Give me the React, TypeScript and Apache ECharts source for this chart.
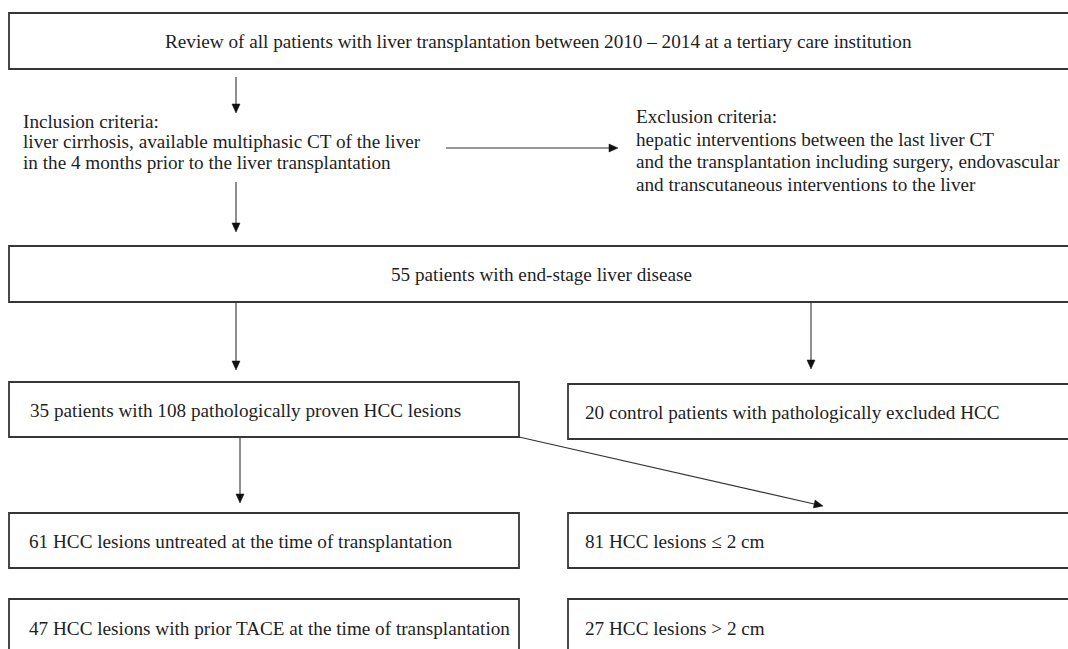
import React, { useEffect, useRef } from "react";
import * as echarts from "echarts";

const topText = ["Review of all patients with liver transplantation between 2010 – 2014 at a tertiary care institution"];
const inclusionLines = [
  "Inclusion criteria:",
  "liver cirrhosis, available multiphasic CT of the liver",
  "in the 4 months prior to the liver transplantation",
];
const exclusionLines = [
  "Exclusion criteria:",
  "hepatic interventions between the last liver CT",
  "and the transplantation including surgery, endovascular",
  "and transcutaneous interventions to the liver",
];
const cohortText = ["55 patients with end-stage liver disease"];
const groupTexts = [
  "35 patients with 108 pathologically proven HCC lesions",
  "20 control patients with pathologically excluded HCC",
];
const treatmentTexts = [
  "61 HCC lesions untreated at the time of transplantation",
  "47 HCC lesions with prior TACE at the time of transplantation",
];
const sizeTexts = ["81 HCC lesions ≤ 2 cm", "27 HCC lesions > 2 cm"];

const FONT = '19.2px "Liberation Serif", "Times New Roman", serif';
const STROKE = "#363636";

function box(x: number, y: number, w: number, h: number) {
  return {
    type: "rect",
    shape: { x, y, width: w, height: h },
    style: { fill: "#fff", stroke: STROKE, lineWidth: 1.8 },
  };
}
function txt(s: string, x: number, y: number) {
  return {
    type: "text",
    style: { text: s, x, y, font: FONT, fill: "#1e1e1e", verticalAlign: "middle", align: "left" },
  };
}
function arrow(x1: number, y1: number, x2: number, y2: number) {
  const dx = x2 - x1, dy = y2 - y1;
  const len = Math.sqrt(dx * dx + dy * dy);
  const ux = dx / len, uy = dy / len;
  const hl = 9, hw = 4;
  const bx = x2 - ux * hl, by = y2 - uy * hl;
  const px = -uy, py = ux;
  return [
    { type: "line", shape: { x1, y1, x2: bx, y2: by }, style: { stroke: "#333", lineWidth: 1.1 } },
    {
      type: "polygon",
      shape: { points: [[x2, y2], [bx + px * hw, by + py * hw], [bx - px * hw, by - py * hw]] },
      style: { fill: "#111", stroke: "#111", lineWidth: 0.5 },
    },
  ];
}

export default function App() {
  const ref = useRef<HTMLDivElement>(null);
  useEffect(() => {
    if (!ref.current) return;
    const chart = echarts.init(ref.current, null, { renderer: "svg" });
    const els: any[] = [];
    // top box
    els.push(box(9, 13, 1070, 56));
    els.push(txt(topText[0], 165, 41));
    // inclusion / exclusion
    const incY = [121, 141.5, 162];
    inclusionLines.forEach((l, i) => els.push(txt(l, 23, incY[i])));
    exclusionLines.forEach((l, i) => els.push(txt(l, 636, 116.5 + i * 22.5)));
    els.push(...arrow(236, 77, 236, 113));
    els.push(...arrow(446, 148, 618, 148));
    els.push(...arrow(236, 182, 236, 232));
    // 55 box
    els.push(box(9, 246, 1070, 56));
    els.push(txt(cohortText[0], 391, 274));
    els.push(...arrow(236, 302, 236, 370));
    els.push(...arrow(811, 302, 811, 369));
    // group boxes
    els.push(box(9, 382, 510, 55));
    els.push(txt(groupTexts[0], 30, 410));
    els.push(box(568, 384, 520, 55));
    els.push(txt(groupTexts[1], 585, 412));
    // diagonal & down
    els.push(...arrow(519, 437, 823, 506));
    els.push(...arrow(240, 437, 240, 503));
    // treatment boxes
    els.push(box(9, 513, 510, 55));
    els.push(txt(treatmentTexts[0], 29, 541));
    els.push(box(9, 599, 510, 60));
    els.push(txt(treatmentTexts[1], 29, 628));
    // size boxes
    els.push(box(568, 513, 520, 55));
    els.push(txt(sizeTexts[0], 585, 541));
    els.push(box(568, 599, 520, 60));
    els.push(txt(sizeTexts[1], 585, 628));

    chart.setOption({
      animation: false,
      backgroundColor: "#fff",
      graphic: { elements: els },
    });
    return () => chart.dispose();
  }, []);
  return (
    <div
      ref={ref}
      style={{ position: "fixed", left: 0, top: 0, width: 1068, height: 649, background: "#fff" }}
    />
  );
}
